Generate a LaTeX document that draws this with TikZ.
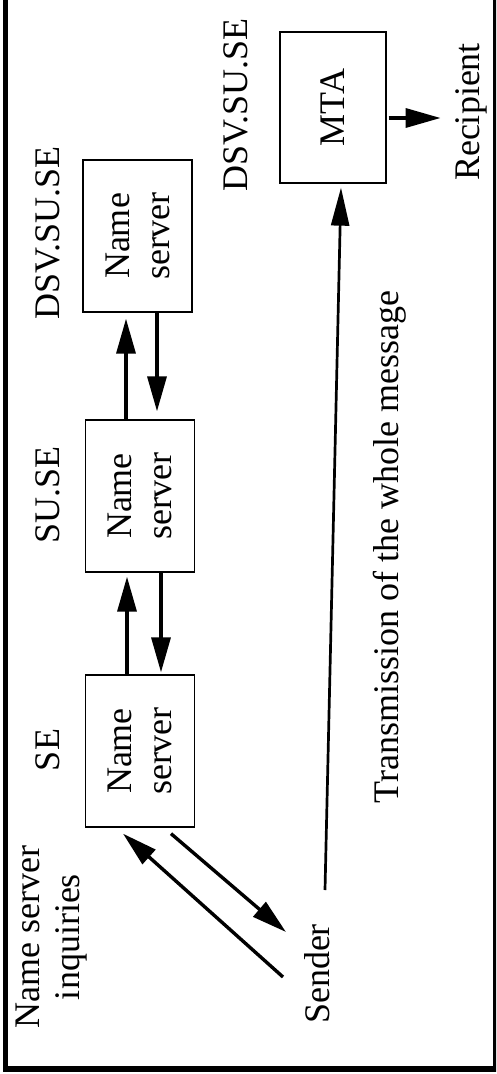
\documentclass[tikz,border=0pt]{standalone}
\usepackage{fontspec}
\setmainfont{Liberation Serif}
\usetikzlibrary{arrows.meta,calc}
\begin{document}
\begin{tikzpicture}[x=1pt,y=-1pt,
  every node/.style={font=\fontsize{36}{40}\selectfont, inner sep=0pt},
  nsbox/.style={draw, line width=1.3pt, rotate=90, minimum width=152pt, minimum height=109pt, align=center},
  lbl/.style={rotate=90, align=center},
  arr/.style={line width=3.4pt, -{Triangle[length=35pt,width=19pt]}},
  thinarr/.style={line width=2.7pt, -{Triangle[length=38pt,width=18pt]}}
]
\useasboundingbox (0,0) rectangle (496,1074);
\clip (0,0) rectangle (496,1074);
\draw[line width=5.6pt] (5.5,-20) rectangle (495.5,1069.2);

\node[nsbox] (dsv) at (137.5,236) {Name\\server};
\node[nsbox] (su) at (140,496) {Name\\server};
\node[nsbox] (se) at (140,751) {Name\\server};
\node[nsbox, minimum width=151pt, minimum height=106pt] (mta) at (333,107.5) {MTA};

\node[lbl] (ldsv) at (47.5,233) {DSV.SU.SE};
\node[lbl] (lsu) at (48,495) {SU.SE};
\node[lbl] (lse) at (48,750) {SE};
\node[lbl] (lmta) at (236,105) {DSV.SU.SE};
\node[lbl] (rec) at (471.6,112) {Recipient};
\node[lbl] (snd) at (317,974) {Sender};
\node[lbl] (trans) at (389.5,547) {Transmission of the whole message};
\node[lbl] (inq) at (52,937) {Name server\\inquiries};

\draw[arr] ($(su.east)+(-14,0)$) -- ($(dsv.west)+(-11.5,6)$);
\draw[arr] ($(dsv.west)+(19.5,0)$) -- ($(su.east)+(17,-8)$);
\draw[arr] ($(se.east)+(-13,0)$) -- ($(su.west)+(-13,4)$);
\draw[arr] ($(su.west)+(21,0)$) -- ($(se.east)+(21,-2)$);
\draw[arr] ($(snd.center)+(-34,3)$) -- ($(se.west)+(-17,6)$);
\draw[arr] ($(se.west)+(31,6)$) -- ($(snd.center)+(-31,-42)$);
\draw[thinarr] ($(snd.center)+(8,-84)$) -- ($(mta.west)+(8,4)$);
\draw[arr] ($(mta.south)+(2,10.5)$) -- ($(rec.center)+(-31,6)$);
\end{tikzpicture}
\end{document}
